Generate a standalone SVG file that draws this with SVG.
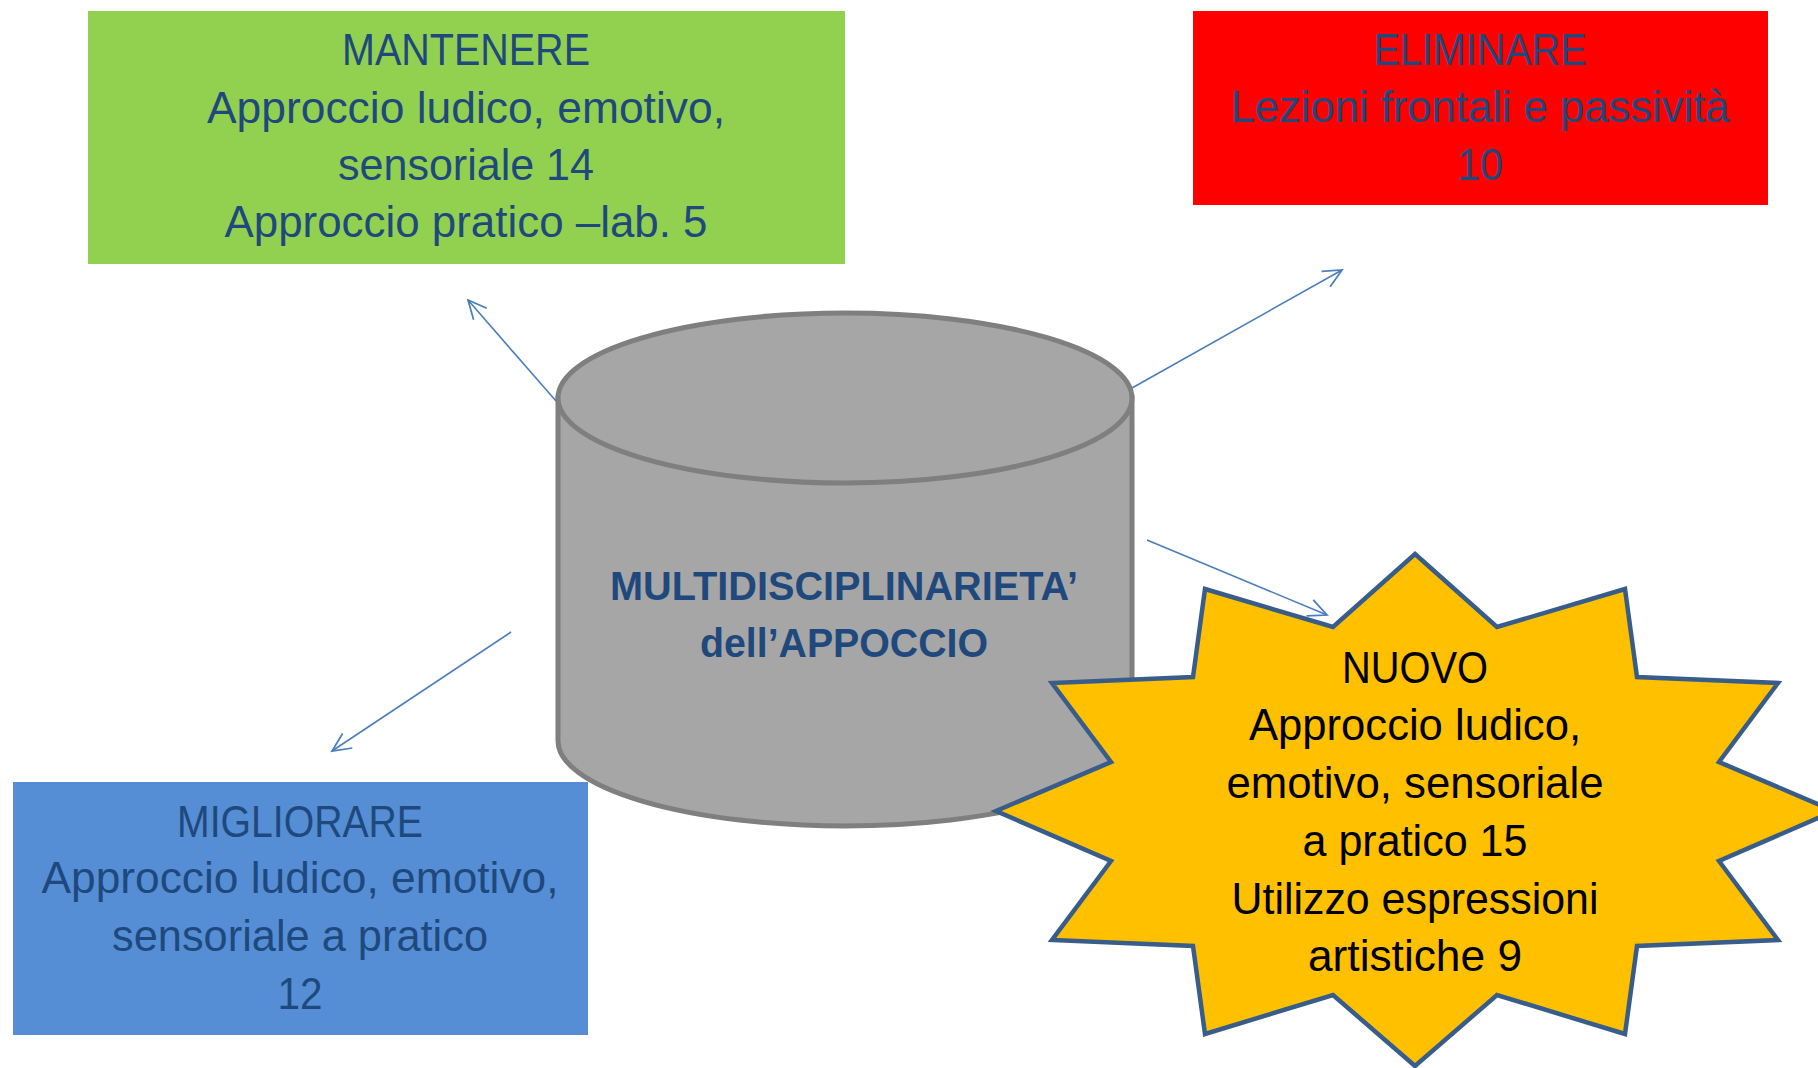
<svg xmlns="http://www.w3.org/2000/svg" width="1818" height="1068" viewBox="0 0 1818 1068">
<style>
.t{font-family:"Liberation Sans",Arial,sans-serif;font-size:44px;fill:#1F497D;text-anchor:middle}
.b{font-family:"Liberation Sans",Arial,sans-serif;font-size:41px;font-weight:bold;fill:#1F497D;text-anchor:middle}
.k{font-family:"Liberation Sans",Arial,sans-serif;font-size:44px;fill:#000000;text-anchor:middle}
.c{fill:none;stroke:#4A7EBB;stroke-width:1.6}
</style>
<defs>
<marker id="arr" markerUnits="userSpaceOnUse" markerWidth="24" markerHeight="24" viewBox="-20 -10 22 20" refX="0" refY="0" orient="auto">
<path d="M-17,-8 L0,0 L-17,8" fill="none" stroke="#4A7EBB" stroke-width="1.6"/>
</marker>
</defs>
<rect width="1818" height="1068" fill="#ffffff"/>
<g id="cylinder">
<path d="M558,398 L558,741 A287,85 0 0 0 1132,741 L1132,398 Z" fill="#A6A6A6" stroke="#7F7F7F" stroke-width="5"/>
<ellipse cx="845" cy="398" rx="287" ry="85" fill="#A6A6A6" stroke="#7F7F7F" stroke-width="5"/>
<text class="b" x="844" y="600" textLength="468" lengthAdjust="spacingAndGlyphs">MULTIDISCIPLINARIETA’</text>
<text class="b" x="844" y="657" textLength="288" lengthAdjust="spacingAndGlyphs">dell’APPOCCIO</text>
</g>
<g id="mantenere">
<rect x="88" y="11" width="757" height="253" fill="#92D050"/>
<text class="t" x="466" y="65" textLength="248" lengthAdjust="spacingAndGlyphs">MANTENERE</text>
<text class="t" x="466" y="123" textLength="518" lengthAdjust="spacingAndGlyphs">Approccio ludico, emotivo,</text>
<text class="t" x="466" y="180" textLength="256" lengthAdjust="spacingAndGlyphs">sensoriale 14</text>
<text class="t" x="466" y="237" textLength="483" lengthAdjust="spacingAndGlyphs">Approccio pratico –lab. 5</text>
</g>
<g id="eliminare">
<rect x="1193" y="11" width="575" height="194" fill="#FF0000"/>
<text class="t" x="1480" y="65" textLength="213" lengthAdjust="spacingAndGlyphs">ELIMINARE</text>
<text class="t" x="1480" y="122" textLength="499" lengthAdjust="spacingAndGlyphs">Lezioni frontali e passività</text>
<text class="t" x="1480" y="180" textLength="46" lengthAdjust="spacingAndGlyphs">10</text>
</g>
<g id="migliorare">
<rect x="13" y="782" width="575" height="253" fill="#558ED5"/>
<text class="t" x="300" y="837" textLength="246" lengthAdjust="spacingAndGlyphs">MIGLIORARE</text>
<text class="t" x="300" y="893" textLength="517" lengthAdjust="spacingAndGlyphs">Approccio ludico, emotivo,</text>
<text class="t" x="300" y="951" textLength="376" lengthAdjust="spacingAndGlyphs">sensoriale a pratico</text>
<text class="t" x="300" y="1009" textLength="45" lengthAdjust="spacingAndGlyphs">12</text>
</g>
<g id="nuovo">
<polygon points="1415,554 1497,627 1625,589 1637,677 1778,683 1719,762 1834,811 1719,861 1778,940 1637,946 1625,1034 1497,995 1415,1066 1333,995 1205,1034 1193,946 1052,940 1111,861 996,811 1111,762 1052,683 1193,677 1205,589 1333,627" fill="#FFC000" stroke="#385D8A" stroke-width="4.5" stroke-linejoin="miter"/>
<text class="k" x="1415" y="683" textLength="146" lengthAdjust="spacingAndGlyphs">NUOVO</text>
<text class="k" x="1415" y="740" textLength="332" lengthAdjust="spacingAndGlyphs">Approccio ludico,</text>
<text class="k" x="1415" y="798" textLength="377" lengthAdjust="spacingAndGlyphs">emotivo, sensoriale</text>
<text class="k" x="1415" y="856" textLength="225" lengthAdjust="spacingAndGlyphs">a pratico 15</text>
<text class="k" x="1415" y="914" textLength="367" lengthAdjust="spacingAndGlyphs">Utilizzo espressioni</text>
<text class="k" x="1415" y="971" textLength="214" lengthAdjust="spacingAndGlyphs">artistiche 9</text>
</g>
<g id="connectors">
<line class="c" x1="556" y1="401" x2="468" y2="300" marker-end="url(#arr)"/>
<line class="c" x1="1132" y1="388" x2="1342" y2="270" marker-end="url(#arr)"/>
<line class="c" x1="511" y1="632" x2="332" y2="751" marker-end="url(#arr)"/>
<line class="c" x1="1147" y1="540" x2="1327" y2="615" marker-end="url(#arr)"/>
</g>
</svg>
